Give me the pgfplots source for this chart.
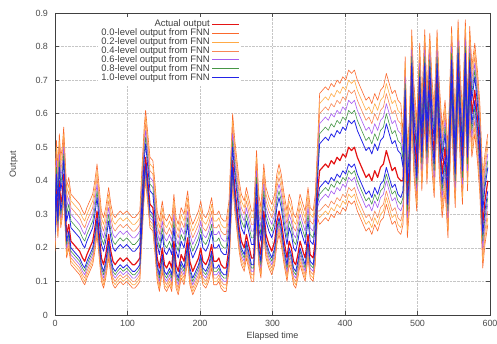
\documentclass[border=0pt]{standalone}
\usepackage{fontspec}
\setmainfont{Liberation Sans}
\usepackage{pgfplots}
\usepackage{pgfplotstable}
\pgfplotsset{compat=1.18}
\definecolor{cact}{RGB}{228,20,20}
\definecolor{cz}{RGB}{250,105,45}
\definecolor{ctw}{RGB}{255,170,70}
\definecolor{cfo}{RGB}{248,135,85}
\definecolor{csi}{RGB}{165,90,240}
\definecolor{cei}{RGB}{70,150,70}
\definecolor{cte}{RGB}{35,35,230}
\pgfplotstableread{
x a u1 u2 u3 u4 u5 u6 l1 l2 l3 l4 l5 l6
0 0.26 0.30 0.32 0.34 0.36 0.38 0.40 0.24 0.23 0.22 0.21 0.20 0.19
2 0.38 0.42 0.44 0.46 0.48 0.50 0.52 0.36 0.35 0.34 0.33 0.32 0.31
4 0.30 0.34 0.36 0.38 0.40 0.42 0.44 0.28 0.27 0.26 0.25 0.24 0.23
6 0.40 0.44 0.46 0.48 0.50 0.52 0.54 0.38 0.37 0.36 0.35 0.34 0.33
8 0.33 0.37 0.39 0.41 0.43 0.45 0.47 0.31 0.30 0.29 0.28 0.27 0.26
10 0.36 0.40 0.42 0.44 0.46 0.48 0.50 0.34 0.33 0.32 0.31 0.30 0.29
12 0.42 0.46 0.48 0.50 0.52 0.54 0.56 0.40 0.39 0.38 0.37 0.36 0.35
14 0.33 0.37 0.39 0.41 0.43 0.45 0.47 0.31 0.30 0.29 0.28 0.27 0.26
16 0.24 0.28 0.30 0.32 0.34 0.36 0.38 0.22 0.21 0.20 0.19 0.18 0.17
19 0.27 0.31 0.33 0.35 0.37 0.39 0.41 0.25 0.24 0.23 0.22 0.21 0.20
22 0.22 0.26 0.28 0.30 0.32 0.34 0.36 0.20 0.19 0.18 0.17 0.16 0.15
26 0.21 0.25 0.27 0.29 0.31 0.33 0.35 0.19 0.18 0.17 0.16 0.15 0.14
30 0.20 0.24 0.26 0.28 0.30 0.32 0.34 0.18 0.17 0.16 0.15 0.14 0.13
34 0.19 0.23 0.25 0.27 0.29 0.31 0.33 0.17 0.16 0.15 0.14 0.13 0.12
38 0.17 0.21 0.23 0.25 0.27 0.29 0.31 0.15 0.14 0.13 0.12 0.11 0.10
41 0.16 0.20 0.22 0.24 0.26 0.28 0.30 0.14 0.13 0.12 0.11 0.10 0.09
44 0.18 0.22 0.24 0.26 0.28 0.30 0.32 0.16 0.15 0.14 0.13 0.12 0.11
48 0.20 0.24 0.26 0.28 0.30 0.32 0.34 0.18 0.17 0.16 0.15 0.14 0.13
52 0.22 0.26 0.28 0.30 0.32 0.34 0.36 0.20 0.19 0.18 0.17 0.16 0.15
55 0.26 0.30 0.32 0.34 0.36 0.38 0.40 0.24 0.23 0.22 0.21 0.20 0.19
58 0.31 0.35 0.37 0.39 0.41 0.43 0.45 0.29 0.28 0.27 0.26 0.25 0.24
61 0.24 0.28 0.30 0.32 0.34 0.36 0.38 0.22 0.21 0.20 0.19 0.18 0.17
64 0.17 0.21 0.23 0.25 0.27 0.29 0.31 0.15 0.14 0.13 0.12 0.11 0.10
67 0.15 0.19 0.21 0.23 0.25 0.27 0.29 0.13 0.12 0.11 0.10 0.09 0.08
70 0.18 0.22 0.24 0.26 0.28 0.30 0.32 0.16 0.15 0.14 0.13 0.12 0.11
74 0.24 0.28 0.30 0.32 0.34 0.36 0.38 0.22 0.21 0.20 0.19 0.18 0.17
77 0.19 0.23 0.25 0.27 0.29 0.31 0.33 0.17 0.16 0.15 0.14 0.13 0.12
80 0.16 0.20 0.22 0.24 0.26 0.28 0.30 0.14 0.13 0.12 0.11 0.10 0.09
83 0.15 0.19 0.21 0.23 0.25 0.27 0.29 0.13 0.12 0.11 0.10 0.09 0.08
86 0.16 0.20 0.22 0.24 0.26 0.28 0.30 0.14 0.13 0.12 0.11 0.10 0.09
90 0.17 0.21 0.23 0.25 0.27 0.29 0.31 0.15 0.14 0.13 0.12 0.11 0.10
94 0.16 0.20 0.22 0.24 0.26 0.28 0.30 0.14 0.13 0.12 0.11 0.10 0.09
99 0.17 0.21 0.23 0.25 0.27 0.29 0.31 0.15 0.14 0.13 0.12 0.11 0.10
103 0.16 0.20 0.22 0.24 0.26 0.28 0.30 0.14 0.13 0.12 0.11 0.10 0.09
107 0.15 0.19 0.21 0.23 0.25 0.27 0.29 0.13 0.12 0.11 0.10 0.09 0.08
110 0.15 0.19 0.21 0.23 0.25 0.27 0.29 0.13 0.12 0.11 0.10 0.09 0.08
114 0.16 0.20 0.22 0.24 0.26 0.28 0.30 0.14 0.13 0.12 0.11 0.10 0.09
117 0.17 0.21 0.23 0.25 0.27 0.29 0.31 0.15 0.14 0.13 0.12 0.11 0.10
120 0.30 0.34 0.36 0.38 0.40 0.42 0.44 0.28 0.27 0.26 0.25 0.24 0.23
123 0.42 0.46 0.48 0.50 0.52 0.54 0.56 0.40 0.39 0.38 0.37 0.36 0.35
125 0.47 0.51 0.53 0.55 0.57 0.59 0.61 0.45 0.44 0.43 0.42 0.41 0.40
128 0.40 0.44 0.46 0.48 0.50 0.52 0.54 0.38 0.37 0.36 0.35 0.34 0.33
131 0.33 0.37 0.39 0.41 0.43 0.45 0.47 0.31 0.30 0.29 0.28 0.27 0.26
135 0.32 0.36 0.38 0.40 0.42 0.44 0.46 0.30 0.29 0.28 0.27 0.26 0.25
138 0.25 0.29 0.31 0.33 0.35 0.37 0.39 0.23 0.22 0.21 0.20 0.19 0.18
141 0.17 0.21 0.23 0.25 0.27 0.29 0.31 0.15 0.14 0.13 0.12 0.11 0.10
144 0.14 0.18 0.20 0.22 0.24 0.26 0.28 0.12 0.11 0.10 0.09 0.08 0.07
148 0.20 0.24 0.26 0.28 0.30 0.32 0.34 0.18 0.17 0.16 0.15 0.14 0.13
151 0.15 0.19 0.21 0.23 0.25 0.27 0.29 0.13 0.12 0.11 0.10 0.09 0.08
154 0.14 0.18 0.20 0.22 0.24 0.26 0.28 0.12 0.11 0.10 0.09 0.08 0.07
158 0.16 0.20 0.22 0.24 0.26 0.28 0.30 0.14 0.13 0.12 0.11 0.10 0.09
161 0.14 0.18 0.20 0.22 0.24 0.26 0.28 0.12 0.11 0.10 0.09 0.08 0.07
164 0.22 0.26 0.28 0.30 0.32 0.34 0.36 0.20 0.19 0.18 0.17 0.16 0.15
167 0.15 0.19 0.21 0.23 0.25 0.27 0.29 0.13 0.12 0.11 0.10 0.09 0.08
170 0.13 0.17 0.19 0.21 0.23 0.25 0.27 0.11 0.10 0.09 0.08 0.07 0.06
174 0.18 0.22 0.24 0.26 0.28 0.30 0.32 0.16 0.15 0.14 0.13 0.12 0.11
178 0.16 0.20 0.22 0.24 0.26 0.28 0.30 0.14 0.13 0.12 0.11 0.10 0.09
183 0.23 0.27 0.29 0.31 0.33 0.35 0.37 0.21 0.20 0.19 0.18 0.17 0.16
186 0.16 0.20 0.22 0.24 0.26 0.28 0.30 0.14 0.13 0.12 0.11 0.10 0.09
190 0.13 0.17 0.19 0.21 0.23 0.25 0.27 0.11 0.10 0.09 0.08 0.07 0.06
194 0.15 0.19 0.21 0.23 0.25 0.27 0.29 0.13 0.12 0.11 0.10 0.09 0.08
198 0.17 0.21 0.23 0.25 0.27 0.29 0.31 0.15 0.14 0.13 0.12 0.11 0.10
201 0.20 0.24 0.26 0.28 0.30 0.32 0.34 0.18 0.17 0.16 0.15 0.14 0.13
204 0.16 0.20 0.22 0.24 0.26 0.28 0.30 0.14 0.13 0.12 0.11 0.10 0.09
208 0.15 0.19 0.21 0.23 0.25 0.27 0.29 0.13 0.12 0.11 0.10 0.09 0.08
212 0.17 0.21 0.23 0.25 0.27 0.29 0.31 0.15 0.14 0.13 0.12 0.11 0.10
216 0.21 0.25 0.27 0.29 0.31 0.33 0.35 0.19 0.18 0.17 0.16 0.15 0.14
219 0.16 0.20 0.22 0.24 0.26 0.28 0.30 0.14 0.13 0.12 0.11 0.10 0.09
223 0.16 0.20 0.22 0.24 0.26 0.28 0.30 0.14 0.13 0.12 0.11 0.10 0.09
226 0.17 0.21 0.23 0.25 0.27 0.29 0.31 0.15 0.14 0.13 0.12 0.11 0.10
229 0.15 0.19 0.21 0.23 0.25 0.27 0.29 0.13 0.12 0.11 0.10 0.09 0.08
233 0.14 0.18 0.20 0.22 0.24 0.26 0.28 0.12 0.11 0.10 0.09 0.08 0.07
236 0.14 0.18 0.20 0.22 0.24 0.26 0.28 0.12 0.11 0.10 0.09 0.08 0.07
240 0.20 0.24 0.26 0.28 0.30 0.32 0.34 0.18 0.17 0.16 0.15 0.14 0.13
243 0.36 0.40 0.42 0.44 0.46 0.48 0.50 0.34 0.33 0.32 0.31 0.30 0.29
245 0.46 0.50 0.52 0.54 0.56 0.58 0.60 0.44 0.43 0.42 0.41 0.40 0.39
248 0.38 0.42 0.44 0.46 0.48 0.50 0.52 0.36 0.35 0.34 0.33 0.32 0.31
251 0.32 0.36 0.38 0.40 0.42 0.44 0.46 0.30 0.29 0.28 0.27 0.26 0.25
254 0.26 0.30 0.32 0.34 0.36 0.38 0.40 0.24 0.23 0.22 0.21 0.20 0.19
257 0.22 0.26 0.28 0.30 0.32 0.34 0.36 0.20 0.19 0.18 0.17 0.16 0.15
261 0.20 0.24 0.26 0.28 0.30 0.32 0.34 0.18 0.17 0.16 0.15 0.14 0.13
264 0.24 0.28 0.30 0.32 0.34 0.36 0.38 0.22 0.21 0.20 0.19 0.18 0.17
268 0.20 0.24 0.26 0.28 0.30 0.32 0.34 0.18 0.17 0.16 0.15 0.14 0.13
271 0.17 0.21 0.23 0.25 0.27 0.29 0.31 0.15 0.14 0.13 0.12 0.11 0.10
274 0.17 0.21 0.23 0.25 0.27 0.29 0.31 0.15 0.14 0.13 0.12 0.11 0.10
278 0.35 0.39 0.41 0.43 0.45 0.47 0.49 0.33 0.32 0.31 0.30 0.29 0.28
281 0.22 0.26 0.28 0.30 0.32 0.34 0.36 0.20 0.19 0.18 0.17 0.16 0.15
284 0.18 0.22 0.24 0.26 0.28 0.30 0.32 0.16 0.15 0.14 0.13 0.12 0.11
288 0.31 0.35 0.37 0.39 0.41 0.43 0.45 0.29 0.28 0.27 0.26 0.25 0.24
291 0.24 0.28 0.30 0.32 0.34 0.36 0.38 0.22 0.21 0.20 0.19 0.18 0.17
295 0.21 0.25 0.27 0.29 0.31 0.33 0.35 0.19 0.18 0.17 0.16 0.15 0.14
299 0.19 0.23 0.25 0.27 0.29 0.31 0.33 0.17 0.16 0.15 0.14 0.13 0.12
303 0.22 0.26 0.28 0.30 0.32 0.34 0.36 0.20 0.19 0.18 0.17 0.16 0.15
306 0.28 0.32 0.34 0.36 0.38 0.40 0.42 0.26 0.25 0.24 0.23 0.22 0.21
309 0.31 0.35 0.37 0.39 0.41 0.43 0.45 0.29 0.28 0.27 0.26 0.25 0.24
312 0.28 0.32 0.34 0.36 0.38 0.40 0.42 0.26 0.25 0.24 0.23 0.22 0.21
316 0.22 0.26 0.28 0.30 0.32 0.34 0.36 0.20 0.19 0.18 0.17 0.16 0.15
320 0.17 0.21 0.23 0.25 0.27 0.29 0.31 0.15 0.14 0.13 0.12 0.11 0.10
323 0.22 0.26 0.28 0.30 0.32 0.34 0.36 0.20 0.19 0.18 0.17 0.16 0.15
326 0.20 0.24 0.26 0.28 0.30 0.32 0.34 0.18 0.17 0.16 0.15 0.14 0.13
329 0.16 0.20 0.22 0.24 0.26 0.28 0.30 0.14 0.13 0.12 0.11 0.10 0.09
332 0.15 0.19 0.21 0.23 0.25 0.27 0.29 0.13 0.12 0.11 0.10 0.09 0.08
335 0.18 0.22 0.24 0.26 0.28 0.30 0.32 0.16 0.15 0.14 0.13 0.12 0.11
338 0.22 0.26 0.28 0.30 0.32 0.34 0.36 0.20 0.19 0.18 0.17 0.16 0.15
342 0.19 0.23 0.25 0.27 0.29 0.31 0.33 0.17 0.16 0.15 0.14 0.13 0.12
345 0.17 0.21 0.23 0.25 0.27 0.29 0.31 0.15 0.14 0.13 0.12 0.11 0.10
349 0.24 0.28 0.30 0.32 0.34 0.36 0.38 0.22 0.21 0.20 0.19 0.18 0.17
352 0.18 0.22 0.24 0.26 0.28 0.30 0.32 0.16 0.15 0.14 0.13 0.12 0.11
356 0.17 0.21 0.23 0.25 0.27 0.29 0.31 0.15 0.14 0.13 0.12 0.11 0.10
359 0.22 0.26 0.28 0.30 0.32 0.34 0.36 0.20 0.19 0.18 0.17 0.16 0.15
362 0.36 0.40 0.42 0.44 0.46 0.48 0.50 0.34 0.33 0.32 0.31 0.30 0.29
365 0.43 0.51 0.54 0.57 0.60 0.63 0.66 0.38 0.36 0.34 0.31 0.29 0.27
369 0.44 0.52 0.55 0.58 0.61 0.64 0.67 0.39 0.37 0.35 0.32 0.30 0.28
373 0.45 0.53 0.56 0.59 0.62 0.65 0.68 0.40 0.38 0.36 0.33 0.31 0.29
377 0.44 0.52 0.55 0.58 0.61 0.64 0.67 0.39 0.37 0.35 0.32 0.30 0.28
381 0.46 0.54 0.57 0.60 0.63 0.66 0.69 0.41 0.39 0.37 0.34 0.32 0.30
385 0.45 0.53 0.56 0.59 0.62 0.65 0.68 0.40 0.38 0.36 0.33 0.31 0.29
389 0.47 0.55 0.58 0.61 0.64 0.67 0.70 0.42 0.40 0.38 0.35 0.33 0.31
393 0.46 0.54 0.57 0.60 0.63 0.66 0.69 0.41 0.39 0.37 0.34 0.32 0.30
397 0.48 0.56 0.59 0.62 0.65 0.68 0.71 0.43 0.41 0.39 0.36 0.34 0.32
401 0.47 0.55 0.58 0.61 0.64 0.67 0.70 0.42 0.40 0.38 0.35 0.33 0.31
405 0.50 0.58 0.61 0.64 0.67 0.70 0.73 0.45 0.43 0.41 0.38 0.36 0.34
409 0.49 0.57 0.60 0.63 0.66 0.69 0.72 0.44 0.42 0.40 0.37 0.35 0.33
413 0.50 0.58 0.61 0.64 0.67 0.70 0.73 0.45 0.43 0.41 0.38 0.36 0.34
417 0.47 0.55 0.58 0.61 0.64 0.67 0.70 0.42 0.40 0.38 0.35 0.33 0.31
421 0.45 0.53 0.56 0.59 0.62 0.65 0.68 0.40 0.38 0.36 0.33 0.31 0.29
425 0.43 0.51 0.54 0.57 0.60 0.63 0.66 0.38 0.36 0.34 0.31 0.29 0.27
429 0.41 0.49 0.52 0.55 0.58 0.61 0.64 0.36 0.34 0.32 0.29 0.27 0.25
433 0.42 0.50 0.53 0.56 0.59 0.62 0.65 0.37 0.35 0.33 0.30 0.28 0.26
437 0.40 0.48 0.51 0.54 0.57 0.60 0.63 0.35 0.33 0.31 0.28 0.26 0.24
441 0.43 0.51 0.54 0.57 0.60 0.63 0.66 0.38 0.36 0.34 0.31 0.29 0.27
445 0.41 0.49 0.52 0.55 0.58 0.61 0.64 0.36 0.34 0.32 0.29 0.27 0.25
449 0.44 0.52 0.55 0.58 0.61 0.64 0.67 0.39 0.37 0.35 0.32 0.30 0.28
453 0.45 0.53 0.56 0.59 0.62 0.65 0.68 0.40 0.38 0.36 0.33 0.31 0.29
457 0.49 0.57 0.60 0.63 0.66 0.69 0.72 0.44 0.42 0.40 0.37 0.35 0.33
461 0.46 0.54 0.57 0.60 0.63 0.66 0.69 0.41 0.39 0.37 0.34 0.32 0.30
465 0.43 0.51 0.54 0.57 0.60 0.63 0.66 0.38 0.36 0.34 0.31 0.29 0.27
469 0.44 0.52 0.55 0.58 0.61 0.64 0.67 0.39 0.37 0.35 0.32 0.30 0.28
473 0.41 0.49 0.52 0.55 0.58 0.61 0.64 0.36 0.34 0.32 0.29 0.27 0.25
477 0.40 0.48 0.51 0.54 0.57 0.60 0.63 0.35 0.33 0.31 0.28 0.26 0.24
480 0.40 0.44 0.46 0.48 0.50 0.52 0.54 0.37 0.35 0.33 0.31 0.29 0.27
483 0.63 0.67 0.69 0.71 0.73 0.75 0.77 0.60 0.58 0.56 0.54 0.52 0.50
486 0.36 0.40 0.42 0.44 0.46 0.48 0.50 0.33 0.31 0.29 0.27 0.25 0.23
489 0.45 0.49 0.51 0.53 0.55 0.57 0.59 0.42 0.40 0.38 0.36 0.34 0.32
492 0.71 0.75 0.77 0.79 0.81 0.83 0.85 0.68 0.66 0.64 0.62 0.60 0.58
495 0.55 0.59 0.61 0.63 0.65 0.67 0.69 0.52 0.50 0.48 0.46 0.44 0.42
499 0.44 0.48 0.50 0.52 0.54 0.56 0.58 0.41 0.39 0.37 0.35 0.33 0.31
503 0.67 0.71 0.73 0.75 0.77 0.79 0.81 0.64 0.62 0.60 0.58 0.56 0.54
506 0.50 0.54 0.56 0.58 0.60 0.62 0.64 0.47 0.45 0.43 0.41 0.39 0.37
510 0.71 0.75 0.77 0.79 0.81 0.83 0.85 0.68 0.66 0.64 0.62 0.60 0.58
513 0.52 0.56 0.58 0.60 0.62 0.64 0.66 0.49 0.47 0.45 0.43 0.41 0.39
517 0.70 0.74 0.76 0.78 0.80 0.82 0.84 0.67 0.65 0.63 0.61 0.59 0.57
520 0.56 0.60 0.62 0.64 0.66 0.68 0.70 0.53 0.51 0.49 0.47 0.45 0.43
523 0.48 0.52 0.54 0.56 0.58 0.60 0.62 0.45 0.43 0.41 0.39 0.37 0.35
527 0.71 0.75 0.77 0.79 0.81 0.83 0.85 0.68 0.66 0.64 0.62 0.60 0.58
530 0.55 0.59 0.61 0.63 0.65 0.67 0.69 0.52 0.50 0.48 0.46 0.44 0.42
534 0.42 0.46 0.48 0.50 0.52 0.54 0.56 0.39 0.37 0.35 0.33 0.31 0.29
538 0.50 0.54 0.56 0.58 0.60 0.62 0.64 0.47 0.45 0.43 0.41 0.39 0.37
542 0.36 0.40 0.42 0.44 0.46 0.48 0.50 0.33 0.31 0.29 0.27 0.25 0.23
547 0.72 0.76 0.78 0.80 0.82 0.84 0.86 0.69 0.67 0.65 0.63 0.61 0.59
550 0.55 0.59 0.61 0.63 0.65 0.67 0.69 0.52 0.50 0.48 0.46 0.44 0.42
552 0.45 0.49 0.51 0.53 0.55 0.57 0.59 0.42 0.40 0.38 0.36 0.34 0.32
556 0.74 0.78 0.80 0.82 0.84 0.86 0.88 0.71 0.69 0.67 0.65 0.63 0.61
559 0.58 0.62 0.64 0.66 0.68 0.70 0.72 0.55 0.53 0.51 0.49 0.47 0.45
562 0.46 0.50 0.52 0.54 0.56 0.58 0.60 0.43 0.41 0.39 0.37 0.35 0.33
566 0.74 0.78 0.80 0.82 0.84 0.86 0.88 0.71 0.69 0.67 0.65 0.63 0.61
569 0.50 0.54 0.56 0.58 0.60 0.62 0.64 0.47 0.45 0.43 0.41 0.39 0.37
572 0.72 0.76 0.78 0.80 0.82 0.84 0.86 0.69 0.67 0.65 0.63 0.61 0.59
575 0.60 0.64 0.66 0.68 0.70 0.72 0.74 0.57 0.55 0.53 0.51 0.49 0.47
579 0.67 0.71 0.73 0.75 0.77 0.79 0.81 0.64 0.62 0.60 0.58 0.56 0.54
583 0.58 0.62 0.64 0.66 0.68 0.70 0.72 0.55 0.53 0.51 0.49 0.47 0.45
586 0.49 0.53 0.55 0.57 0.59 0.61 0.63 0.46 0.44 0.42 0.40 0.38 0.36
590 0.27 0.31 0.33 0.35 0.37 0.39 0.41 0.24 0.22 0.20 0.18 0.16 0.14
593 0.34 0.38 0.40 0.42 0.44 0.46 0.48 0.31 0.29 0.27 0.25 0.23 0.21
597 0.40 0.44 0.46 0.48 0.50 0.52 0.54 0.37 0.35 0.33 0.31 0.29 0.27
}\data
\newcommand{\lt}[1]{\textcolor{black!75}{#1}}
\begin{document}
\begin{tikzpicture}
\begin{axis}[
  scale only axis,
  width=435bp, height=302bp,
  xmin=0, xmax=600, ymin=0, ymax=0.9,
  xtick={0,100,...,600},
  ytick={0,0.1,0.2,0.3,0.4,0.5,0.6,0.7,0.8,0.9},
  /pgf/number format/assume math mode=true,
  yticklabel style={/pgf/number format/fixed, xshift=-3.5bp},
  xticklabel style={yshift=-1.5bp},
  tick label style={font=\fontsize{9}{10}\selectfont, text=black!70},
  label style={font=\fontsize{9}{10}\selectfont, text=black!75},
  xlabel={Elapsed time}, ylabel={Output},
  xlabel style={at={(axis description cs:0.5,-0.0695)}, anchor=center},
  ylabel style={at={(axis description cs:-0.095,0.5)}, anchor=center},
  tick align=inside, tick pos=both,
  major tick length=4bp,
  axis line style={black!75, line width=0.9pt},
  tick style={black!70, line width=0.5pt},
  grid=major,
  grid style={densely dotted, gray!45, line width=0.5pt},
  legend plot pos=right,
  legend cell align=right,
  legend style={at={(0.428,0.987)}, anchor=north east, draw=none, fill=white,
    font=\fontsize{9.5}{10}\selectfont, row sep=-3.5pt, inner sep=1pt},
  legend image code/.code={\draw[#1] (0bp,0bp) -- (27bp,0bp);},
  every axis plot/.append style={line join=round},
]
\addplot[cact, line width=1.2pt] table[x=x, y=a]{\data};
\addlegendentry{\lt{Actual output}}
\addplot[cz, line width=0.6pt] table[x=x, y=u6]{\data};
\addlegendentry{\lt{0.0-level output from FNN}}
\addplot[ctw, line width=0.6pt] table[x=x, y=u5]{\data};
\addlegendentry{\lt{0.2-level output from FNN}}
\addplot[cfo, line width=0.6pt] table[x=x, y=u4]{\data};
\addlegendentry{\lt{0.4-level output from FNN}}
\addplot[csi, line width=0.6pt] table[x=x, y=u3]{\data};
\addlegendentry{\lt{0.6-level output from FNN}}
\addplot[cei, line width=0.6pt] table[x=x, y=u2]{\data};
\addlegendentry{\lt{0.8-level output from FNN}}
\addplot[cte, line width=0.8pt] table[x=x, y=u1]{\data};
\addlegendentry{\lt{1.0-level output from FNN}}
\addplot[cz, line width=0.6pt, forget plot] table[x=x, y=l6]{\data};
\addplot[ctw, line width=0.6pt, forget plot] table[x=x, y=l5]{\data};
\addplot[cfo, line width=0.6pt, forget plot] table[x=x, y=l4]{\data};
\addplot[csi, line width=0.6pt, forget plot] table[x=x, y=l3]{\data};
\addplot[cei, line width=0.6pt, forget plot] table[x=x, y=l2]{\data};
\addplot[cte, line width=0.8pt, forget plot] table[x=x, y=l1]{\data};
\coordinate (bl) at (rel axis cs:0,0);
\coordinate (tr) at (rel axis cs:1,1);
\end{axis}
\pgfresetboundingbox
\path ([xshift=-55bp,yshift=-29bp]bl) rectangle ([xshift=7bp,yshift=13bp]tr);
\end{tikzpicture}
\end{document}
